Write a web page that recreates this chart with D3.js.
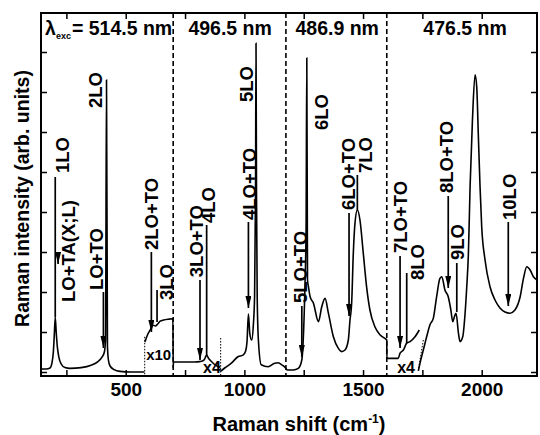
<!DOCTYPE html>
<html>
<head>
<meta charset="utf-8">
<script src="https://cdn.jsdelivr.net/npm/d3@7"></script>
<style>
body { margin: 0; background: #fff; }
text { font-family: "Liberation Sans", Arial, sans-serif; font-weight: bold; fill: #000; }
</style>
</head>
<body>
<div id="containerGraph"></div>
<script>
// spectrum (null = break in the trace)
var shiftCm = [143,165,181,189,195,199,203,207,212,218,228,244,265,312,354,383,400,410,415,419,423,427,434,451,476,520,579,
  580,
  581,592,604,615,625,635,645,660,680,699,700,701,720,790,812,825,833,838,842,848,858,872,888,899,
  900,
  901,917,945,973,994,1005,1011,1017,1023,1031,1038,1043,1047,1049,1051,1054,1059,1071,1100,1128,1142,1160,1174,
  1181,1206,1227,1242,1248,1255,1260,1263,1266,1270,1277,1291,1312,1326,1340,1354,1375,1396,1410,1424,1438,1445,
  1452,1459,1466,1476,1487,1501,1515,1529,1550,1571,1592,1600,1600.5,1648,1656,1670,1684,1698,1719,1737,
  1738,
  1733,1740,1754,1768,1782,1796,1810,1824,1832,1845,1859,1870,1878,1886,1892,1902,1909,1920,1930,1937,1944,1951,
  1961,1972,1979,1986,1993,2000,2014,2035,2056,2077,2098,2119,2140,2162,2176,2190,2204,2218,2233];
var intensity = [0.075,0.075,0.1,0.22,0.5,0.92,1.37,1.0,0.62,0.38,0.2,0.11,0.09,0.11,0.17,0.26,0.37,0.5,0.8,7.3,0.65,0.3,0.15,0.06,0.015,0,0,
  null,
  0.75,0.93,1.06,1.17,1.15,1.2,1.27,1.3,1.32,1.33,0.1,0.25,0.25,0.25,0.26,0.28,0.33,0.4,0.42,0.35,0.28,0.2,0.14,0.12,
  null,
  0.02,0.1,0.22,0.38,0.42,0.52,0.75,1.45,0.95,0.8,1.2,1.9,4.5,8.22,4.5,1.9,0.8,0.18,0.13,0.22,0.23,0.17,0.1,
  0.05,0.05,0.09,0.3,0.8,2.1,3.6,7.85,2.3,2.13,1.88,1.72,1.26,1.63,1.84,1.47,0.88,0.59,0.51,0.55,0.8,1.3,
  1.72,2.97,3.72,4.05,3.8,2.97,2.13,1.55,1.13,0.93,0.84,0.8,0.34,0.34,0.47,0.55,0.72,0.76,0.88,1.05,
  null,
  0.03,0.22,0.55,0.88,1.18,1.34,1.88,2.34,2.38,2.05,1.88,1.55,1.26,1.4,1.47,0.97,0.76,0.88,1.47,2.13,2.97,4.63,
  6.3,7.43,7.13,5.88,4.63,3.63,2.8,2.13,1.8,1.6,1.5,1.47,1.55,1.88,2.34,2.63,2.55,2.38,2.3];

// excitation wavelength regions
var regionEdges = [700, 1175, 1600];
var laserText = ["496.5 nm", "486.9 nm", "476.5 nm"];
var laserShift = [940, 1391, 1930];

// magnified parts
var magText = ["x10", "x4", "x4"];
var magShift = [586, 826, 1644];
var magLevel = [0.3, -0.03, -0.03];
var magEdgeShift = [[580, 580], [900, 900], [1754, 1733]];
var magEdgeLevel = [[0.88, -0.1], [0.85, -0.1], [0.8, 0.05]];

// peak assignments
var annText = ["1LO","LO+TA(X;L)","LO+TO","2LO","2LO+TO","3LO","3LO+TO","4LO","4LO+TO","5LO",
  "5LO+TO","6LO","6LO+TO","7LO","7LO+TO","8LO","8LO+TO","9LO","10LO"];
var annTextShift = [232,257,375,371,607,672,797,849,1020,1007,1237,1326,1437,1509,1656,1730,1850,1896,2115];
var annTextBase = [4.975,1.75,2.05,6.6,3.05,1.8,2.37,3.725,3.8,6.75,1.725,6.05,4.05,4.975,2.975,2.3,4.475,2.8,3.8];
var annLineShift = [203,215,406,null,608,632,813,841,1017,null,1242,null,1441,1476,1656,1684,1859,1895,2112];
var annLineTop = [4.875,2.95,2.0,null,3.0,2.05,2.3,3.675,3.75,null,1.65,null,3.975,4.925,2.9,2.475,4.4,2.725,3.75];
var annLineEnd = [1.37,2.7,0.6,null,1.0,1.25,0.3,0.42,1.6,null,0.375,null,1.4,4.05,0.6,0.72,2.1,1.5,1.65];
var annArrow = [false,true,true,false,true,false,true,false,true,false,true,false,true,false,true,false,true,false,true];

var xTicks = [250,500,750,1000,1250,1500,1750,2000];
var yTicks = [0,1,2,3,4,5,6,7,8];

var margin = {top: 13, right: 3, bottom: 59, left: 41},
    width = 540 - margin.left - margin.right,
    height = 435 - margin.top - margin.bottom;

var x = d3.scaleLinear().domain([143, 2233]).range([0, width]);
var y = d3.scaleLinear().domain([-0.1, 8.975]).range([height, 0]);

var svg = d3.select("#containerGraph")
    .append("svg")
        .attr("width", 540)
        .attr("height", 435)
    .append("g")
        .attr("transform", "translate(" + margin.left + "," + margin.top + ")");

svg.append("defs").append("marker")
    .attr("id", "head")
    .attr("viewBox", "0 -3 12 6")
    .attr("refX", 12).attr("refY", 0)
    .attr("markerWidth", 12).attr("markerHeight", 6)
    .attr("markerUnits", "userSpaceOnUse")
    .attr("orient", "auto")
  .append("path")
    .attr("d", "M0,-3L12,0L0,3Z")
    .attr("fill", "#000");

// axes, ticks inward on all sides
function styleAxis(g) {
    g.select(".domain").remove();
    g.selectAll("line").attr("stroke", "#000").attr("stroke-width", 1.5);
    g.selectAll("text").style("font-size", "19px").attr("fill", "#000");
}
svg.append("g")
    .attr("transform", "translate(0," + height + ")")
    .call(d3.axisBottom(x).tickValues(xTicks).tickSizeInner(-6).tickSizeOuter(0).tickPadding(7)
        .tickFormat(function(d) { return d % 500 === 0 ? d : ""; }))
    .call(styleAxis);
svg.append("g")
    .call(d3.axisTop(x).tickValues(xTicks).tickSizeInner(-6).tickSizeOuter(0).tickFormat(""))
    .call(styleAxis);
svg.append("g")
    .call(d3.axisLeft(y).tickValues(yTicks).tickSizeInner(-6).tickSizeOuter(0).tickFormat(""))
    .call(styleAxis);
svg.append("g")
    .attr("transform", "translate(" + width + ",0)")
    .call(d3.axisRight(y).tickValues(yTicks).tickSizeInner(-6).tickSizeOuter(0).tickFormat(""))
    .call(styleAxis);

// region separators
svg.selectAll(".edge").data(regionEdges).enter().append("line")
    .attr("x1", function(d) { return x(d); }).attr("x2", function(d) { return x(d); })
    .attr("y1", 0).attr("y2", height)
    .attr("stroke", "#000").attr("stroke-width", 1.6).attr("stroke-dasharray", "5,3");

// magnification edges
magEdgeShift.forEach(function(s, i) {
    svg.append("line")
        .attr("x1", x(s[0])).attr("x2", x(s[1]))
        .attr("y1", y(magEdgeLevel[i][0])).attr("y2", y(magEdgeLevel[i][1]))
        .attr("stroke", "#000").attr("stroke-width", 1).attr("stroke-dasharray", "1.5,1.5");
});

// spectrum
var pts = shiftCm.map(function(s, i) { return [s, intensity[i]]; });
var spectrum = d3.line()
    .defined(function(d) { return d[1] !== null; })
    .x(function(d) { return x(d[0]); })
    .y(function(d) { return y(d[1]); })
    .curve(d3.curveMonotoneX);
svg.append("path")
    .attr("d", spectrum(pts))
    .attr("fill", "none").attr("stroke", "#000").attr("stroke-width", 1.6);

// assignment lines and arrows
annText.forEach(function(t, i) {
    if (annLineShift[i] !== null) {
        var l = svg.append("line")
            .attr("x1", x(annLineShift[i])).attr("x2", x(annLineShift[i]))
            .attr("y1", y(annLineTop[i])).attr("y2", y(annLineEnd[i]))
            .attr("stroke", "#000").attr("stroke-width", 1.7);
        if (annArrow[i]) l.attr("marker-end", "url(#head)");
    }
    svg.append("text")
        .attr("transform", "translate(" + x(annTextShift[i]) + "," + y(annTextBase[i]) + ") rotate(-90)")
        .attr("dy", "0.36em")
        .style("font-size", "18.5px")
        .text(t);
});

// magnification labels
magText.forEach(function(t, i) {
    svg.append("text")
        .attr("x", x(magShift[i])).attr("y", y(magLevel[i]))
        .style("font-size", i === 0 ? "15px" : "16px")
        .text(t);
});

// laser lines
laserText.forEach(function(t, i) {
    svg.append("text")
        .attr("x", x(laserShift[i])).attr("y", y(8.425))
        .attr("text-anchor", "middle")
        .style("font-size", "19.5px")
        .text(t);
});
var lam = svg.append("text")
    .attr("x", x(160)).attr("y", y(8.425))
    .style("font-size", "19.5px");
lam.append("tspan").text("λ");
lam.append("tspan").attr("dy", 4).style("font-size", "9px").text("exc");
lam.append("tspan").attr("dy", -4).attr("dx", 1).text("= 514.5 nm");

// axis titles
var xt = svg.append("text")
    .attr("x", 258).attr("y", height + 55)
    .attr("text-anchor", "middle")
    .style("font-size", "20px");
xt.append("tspan").text("Raman shift (cm");
xt.append("tspan").attr("dy", -8).style("font-size", "12px").text("-1");
xt.append("tspan").attr("dy", 8).text(")");

svg.append("text")
    .attr("transform", "translate(" + (-12) + "," + (height / 2 + 4) + ") rotate(-90)")
    .attr("text-anchor", "middle")
    .style("font-size", "19.5px")
    .text("Raman intensity (arb. units)");

// frame
svg.append("rect")
    .attr("width", width).attr("height", height)
    .attr("fill", "none").attr("stroke", "#000").attr("stroke-width", 2);
</script>
</body>
</html>
